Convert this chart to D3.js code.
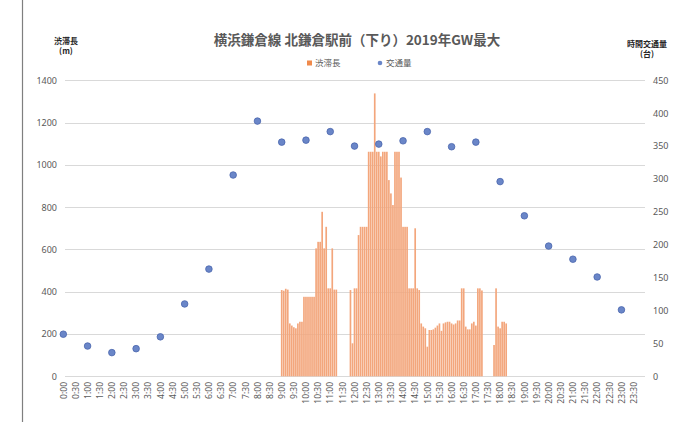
<!DOCTYPE html>
<html><head><meta charset="utf-8">
<script src="https://cdn.jsdelivr.net/npm/d3@7"></script>
<style>
html,body{margin:0;padding:0;background:#fff;}
svg{display:block;font-family:"Noto Sans CJK JP","Noto Sans",sans-serif;}
</style></head>
<body><svg id="c" width="677" height="422"></svg>
<script>
const title = "横浜鎌倉線 北鎌倉駅前（下り）2019年GW最大";
const leftTitle = ["渋滞長", "(m)"];
const rightTitle = ["時間交通量", "(台)"];
const legendNames = ["渋滞長", "交通量"];
const leftTicks = [0,200,400,600,800,1000,1200,1400];
const rightTicks = [0,50,100,150,200,250,300,350,400,450];
// x tick labels every 30 minutes
const xTickLabels = ["0:00","0:30","1:00","1:30","2:00","2:30","3:00","3:30","4:00","4:30","5:00","5:30","6:00","6:30","7:00","7:30","8:00","8:30","9:00","9:30","10:00","10:30","11:00","11:30","12:00","12:30","13:00","13:30","14:00","14:30","15:00","15:30","16:00","16:30","17:00","17:30","18:00","18:30","19:00","19:30","20:00","20:30","21:00","21:30","22:00","22:30","23:00","23:30"];
// hourly traffic volume (台), 0:00 .. 23:00
const trafficHours = ["0:00","1:00","2:00","3:00","4:00","5:00","6:00","7:00","8:00","9:00","10:00","11:00","12:00","13:00","14:00","15:00","16:00","17:00","18:00","19:00","20:00","21:00","22:00","23:00"];
const trafficValues = [64,46,36,42,60,110,163,306,388,356,359,372,350,353,358,372,349,356,296,244,198,178,151,101];
// congestion length (m), 5-minute steps starting 9:00
const jamStart = "9:00";
const jamValues = [408,405,414,410,250,240,232,227,250,258,258,376,
376,376,376,376,376,605,636,636,778,605,707,416,
416,605,410,410,0,0,0,0,0,0,408,156,
416,416,668,707,707,707,707,1062,1062,1062,1338,1062,
1062,1040,1062,1062,1062,928,865,810,1062,1062,1062,940,
707,707,707,416,416,416,700,416,408,250,235,227,
140,219,219,222,230,240,250,215,250,255,258,258,
250,245,250,264,264,416,416,235,222,222,250,258,
240,416,416,406,0,0,0,0,0,148,416,235,
227,258,258,250];

const toMin = s => { const [h,m] = s.split(":").map(Number); return h*60+m; };
const svg = d3.select("#c");
const x = d3.scaleLinear().domain([-2.5, 1437.5]).range([62.3, 644.7]);
const yL = d3.scaleLinear().domain([0,1400]).range([376.3, 80.3]);
const yR = d3.scaleLinear().domain([0,450]).range([376.3, 80.3]);
const gridColor = "#d9d9d9", txt = "#595959";

// frame line at left
svg.append("line").attr("x1",22.5).attr("x2",22.5).attr("y1",0).attr("y2",422).attr("stroke","#7f7f7f").attr("stroke-width",1.2);

// gridlines
svg.append("g").selectAll("line").data(leftTicks).join("line")
  .attr("x1",65).attr("x2",645).attr("y1",d=>Math.round(yL(d))+0.5).attr("y2",d=>Math.round(yL(d))+0.5)
  .attr("stroke",gridColor).attr("stroke-width",1);

// left axis
const gl = svg.append("g").attr("transform","translate(62,0)")
  .call(d3.axisLeft(yL).tickValues(leftTicks).tickFormat(d3.format("d")).tickSize(0).tickPadding(5));
gl.select(".domain").remove();
gl.selectAll("text").attr("fill",txt).attr("font-size",9).attr("font-family","Noto Sans, sans-serif");
// right axis
const gr = svg.append("g").attr("transform","translate(648,0)")
  .call(d3.axisRight(yR).tickValues(rightTicks).tickFormat(d3.format("d")).tickSize(0).tickPadding(5));
gr.select(".domain").remove();
gr.selectAll("text").attr("fill",txt).attr("font-size",9).attr("font-family","Noto Sans, sans-serif");

// x axis labels
const gx = svg.append("g").attr("transform","translate(0,379)")
  .call(d3.axisBottom(x).tickValues(xTickLabels.map(toMin)).tickFormat((d,i)=>xTickLabels[i]).tickSize(0).tickPadding(0));
gx.select(".domain").remove();
gx.selectAll("text").attr("fill",txt).attr("font-size",8.5).attr("font-family","Noto Sans, sans-serif")
  .attr("text-anchor","end").attr("dy","0.32em").attr("transform","translate(0,3) rotate(-90)").attr("x",0).attr("y",0);

// bars
const t0 = toMin(jamStart);
const barData = jamValues.map((v,i)=>({m:t0+i*5, v}));
const pad = 0.35;
svg.append("g").selectAll("rect").data(barData.filter(d=>d.v>0)).join("rect")
  .attr("x",d=>x(d.m-2.5)+pad/2).attr("width",d=>x(d.m+2.5)-x(d.m-2.5)-pad)
  .attr("y",d=>yL(d.v)).attr("height",d=>yL(0)-yL(d.v))
  .attr("fill","#f3a67c");

// points
svg.append("g").selectAll("circle").data(trafficValues.map((v,i)=>({m:toMin(trafficHours[i]), v}))).join("circle")
  .attr("cx",d=>x(d.m)).attr("cy",d=>yR(d.v)).attr("r",3.3)
  .attr("fill","#6a86c8").attr("stroke","#4a66ad").attr("stroke-width",0.8);

// title
svg.append("text").attr("x",357).attr("y",45).attr("text-anchor","middle")
  .attr("font-size",13.5).attr("font-weight","bold").attr("fill",txt).text(title);
// axis titles
const at = (lines, cx, y0) => lines.forEach((s,i)=>svg.append("text").attr("x",cx).attr("y",y0+i*10)
  .attr("text-anchor","middle").attr("font-size",8).attr("font-weight","bold").attr("fill","#262626").text(s));
at(leftTitle, 66, 44);
at(rightTitle, 647, 47);

// legend
const lg = svg.append("g");
lg.append("rect").attr("x",307).attr("y",60.5).attr("width",5).attr("height",5).attr("fill","#f08a4b");
lg.append("text").attr("x",315).attr("y",66).attr("font-size",8.5).attr("fill",txt).text(legendNames[0]);
lg.append("circle").attr("cx",380).attr("cy",63).attr("r",2.3).attr("fill","#6a86c8");
lg.append("text").attr("x",386).attr("y",66).attr("font-size",8.5).attr("fill",txt).text(legendNames[1]);
</script></body></html>
